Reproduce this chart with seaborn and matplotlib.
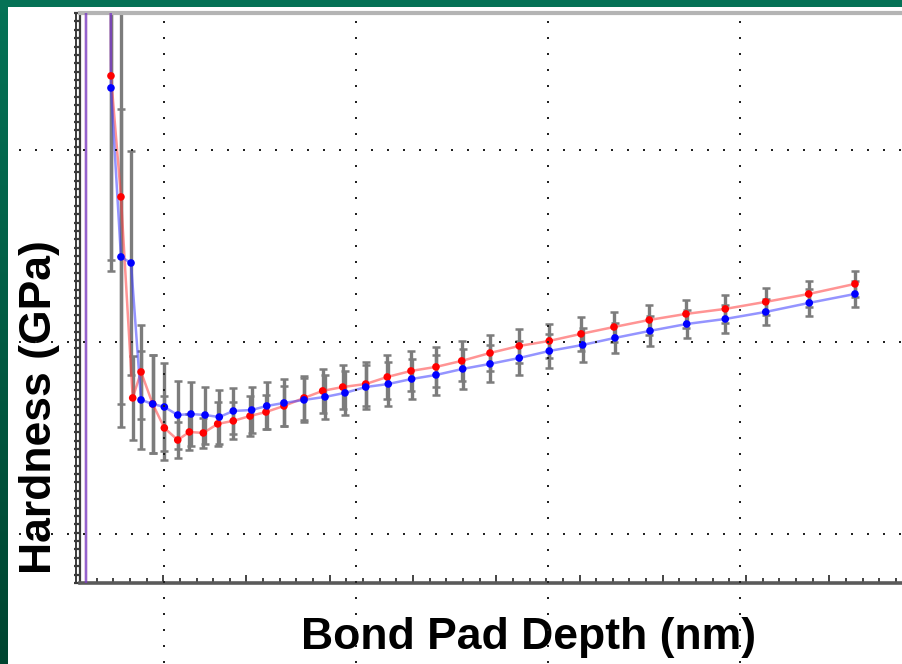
import numpy as np
import pandas as pd
import matplotlib
matplotlib.use("Agg")
import matplotlib.pyplot as plt
from matplotlib.patches import Rectangle
from matplotlib.transforms import offset_copy
from matplotlib.ticker import MultipleLocator, NullFormatter
import seaborn as sns

# Indentation depth (nm), hardness (GPa) and standard deviation for the two pads
depth_red = [7.2, 7.2, 37.2, 49.2, 63.3, 73.3, 87.3, 101.3, 117.4, 131.3, 148.1,
             165.4, 184.1, 204.2, 223.4, 245.0, 269.1, 291.5, 315.6, 343.2, 369.1,
             397.6, 427.6, 458.5, 492.5, 527.6, 563.7, 601.8, 641.4, 683.8, 727.9,
             775.1, 823.7, 875.3, 930.9]
hard_red = [-0.3, 60.0, 3.025, 2.303, 1.104, 1.259, 1.068, 0.925, 0.853, 0.901, 0.895,
            0.949, 0.967, 0.996, 1.020, 1.056, 1.104, 1.146, 1.169, 1.187, 1.229,
            1.265, 1.289, 1.325, 1.372, 1.414, 1.444, 1.486, 1.527, 1.569, 1.605,
            1.635, 1.677, 1.724, 1.784]
err_red = [0, 0, 1.10, 1.37, 0.25, 0.28, 0.29, 0.19, 0.11, 0.11, 0.09,
           0.13, 0.11, 0.12, 0.10, 0.12, 0.13, 0.13, 0.13, 0.13, 0.13,
           0.12, 0.12, 0.12, 0.11, 0.10, 0.10, 0.10, 0.09, 0.09, 0.085,
           0.085, 0.08, 0.08, 0.08]

depth_blue = [7.2, 7.2, 37.2, 49.2, 61.3, 73.3, 87.3, 101.3, 117.4, 133.3, 150.2,
              167.3, 184.1, 206.2, 224.3, 245.0, 269.1, 294.3, 318.3, 343.2, 370.3,
              398.4, 427.6, 459.7, 492.5, 527.6, 563.7, 603.8, 642.6, 684.7, 728.8,
              775.1, 823.7, 876.0, 930.9]
hard_blue = [-0.3, 60.0, 2.953, 1.945, 1.909, 1.092, 1.068, 1.050, 1.002, 1.008, 1.002,
             0.990, 1.026, 1.032, 1.056, 1.074, 1.092, 1.110, 1.134, 1.169, 1.187,
             1.217, 1.241, 1.277, 1.307, 1.342, 1.384, 1.420, 1.462, 1.504, 1.545,
             1.575, 1.617, 1.671, 1.724]
err_blue = [0, 0, 1.09, 0.88, 0.67, 0.29, 0.29, 0.26, 0.20, 0.19, 0.17,
            0.16, 0.14, 0.14, 0.14, 0.14, 0.13, 0.13, 0.13, 0.13, 0.13,
            0.12, 0.12, 0.12, 0.11, 0.10, 0.10, 0.10, 0.09, 0.09, 0.085,
            0.085, 0.08, 0.08, 0.08]

series_names = ["Pad A", "Pad B"]
line_colors = {"Pad A": "#ff3c3c", "Pad B": "#3c3cff"}
marker_colors = {"Pad A": "#ff0000", "Pad B": "#0000ff"}

df = pd.concat([
    pd.DataFrame({"depth": depth_red, "hardness": hard_red, "sd": err_red,
                  "pad": series_names[0]}),
    pd.DataFrame({"depth": depth_blue, "hardness": hard_blue, "sd": err_blue,
                  "pad": series_names[1]}),
], ignore_index=True)

sns.set_style("white")
plt.rcParams["font.family"] = ["Liberation Sans", "DejaVu Sans"]

W, H = 903, 664
fig = plt.figure(figsize=(W / 100, H / 100), dpi=100)
fig.patch.set_facecolor("#006a4d")

# slide background: green gradient frame with a white panel
bg = fig.add_axes([0, 0, 1, 1], zorder=-10)
grad = np.linspace(0, 1, 256).reshape(-1, 1)
green = np.array([[0.02, 0.45, 0.34], [0.0, 0.27, 0.19]])
img = green[0] * (1 - grad[..., None]) + green[1] * grad[..., None]
bg.imshow(img, extent=[0, W, H, 0], aspect="auto")
bg.add_patch(Rectangle((8, 7), W - 8, H - 7, facecolor="white", edgecolor="none"))
bg.set_xlim(0, W)
bg.set_ylim(H, 0)
bg.axis("off")

# data axes (right edge runs slightly past the figure)
ax = fig.add_axes([80 / W, 81 / H, 832.5 / W, 570 / H])
ax.set_facecolor("none")

for name, sub in df.groupby("pad", sort=False):
    sub = sub[sub["sd"] > 0]
    eb = ax.errorbar(sub["depth"], sub["hardness"], yerr=sub["sd"], fmt="none",
                     ecolor="#7c7c7c", elinewidth=2.4, capsize=3.2, capthick=1.8,
                     zorder=2)
    for cap in eb[1]:
        cap.set_color("#333333")

sns.lineplot(data=df, x="depth", y="hardness", hue="pad", palette=line_colors,
             sort=False, estimator=None, linewidth=1.8, alpha=0.55,
             legend=False, ax=ax, zorder=3)
sns.scatterplot(data=df, x="depth", y="hardness", hue="pad", palette=marker_colors,
                s=30, linewidth=0, legend=False, ax=ax, zorder=4)

ax.set_xlim(0, 1000)
ax.set_ylim(0, 3.4)
ax.set_xlabel("")
ax.set_ylabel("")

ax.xaxis.set_major_locator(MultipleLocator(100))
ax.xaxis.set_minor_locator(MultipleLocator(20))
ax.yaxis.set_major_locator(MultipleLocator(0.25))
ax.yaxis.set_minor_locator(MultipleLocator(0.05))
for axis in (ax.xaxis, ax.yaxis):
    axis.set_major_formatter(NullFormatter())
    axis.set_minor_formatter(NullFormatter())
ax.tick_params(axis="x", which="major", direction="in", length=6, width=1.4,
               color="#444444", bottom=True, top=False)
ax.tick_params(axis="x", which="minor", direction="in", length=3.5, width=1.4,
               color="#444444", bottom=True, top=False)
ax.tick_params(axis="y", which="both", direction="out", length=4, width=1.6,
               color="#3a3a3a", left=True, right=False)

ax.spines["left"].set_color("#3a3a3a")
ax.spines["left"].set_linewidth(1.6)
ax.spines["bottom"].set_color("#5a5a5a")
ax.spines["bottom"].set_linewidth(2.6)
ax.spines["top"].set_color("#b4b4b4")
ax.spines["top"].set_linewidth(3)
ax.spines["right"].set_visible(False)

# outer rail of the ladder-style value axis
rail = offset_copy(ax.transAxes, fig=fig, x=-4, y=0, units="dots")
ax.plot([0, 0], [0, 1], transform=rail, color="#3a3a3a", lw=1.4,
        clip_on=False, zorder=5)

# axis titles
fig.text(40 / W, 1 - 407 / H, "Hardness (GPa)", rotation=90, ha="center",
         va="center", fontsize=32, fontweight="bold", color="black")
fig.text(529 / W, 1 - 637 / H, "Bond Pad Depth (nm)", ha="center", va="center",
         fontsize=32, fontweight="bold", color="black")

# dotted guide grid laid over the whole panel
ov = fig.add_axes([0, 0, 1, 1], zorder=20)
ov.set_xlim(0, W)
ov.set_ylim(H, 0)
ov.axis("off")
ov.patch.set_alpha(0)
for gy in (150, 342, 534):
    xs = np.arange(20, W, 16)
    ov.plot(xs, np.full_like(xs, gy), ls="none", marker="s", ms=1.5,
            color="#222222", mew=0)
for gx in (164, 356, 548, 740):
    ys = np.arange(22, H, 16)
    ov.plot(np.full_like(ys, gx), ys, ls="none", marker="s", ms=1.5,
            color="#222222", mew=0)

fig.savefig("out.png", dpi=100)
